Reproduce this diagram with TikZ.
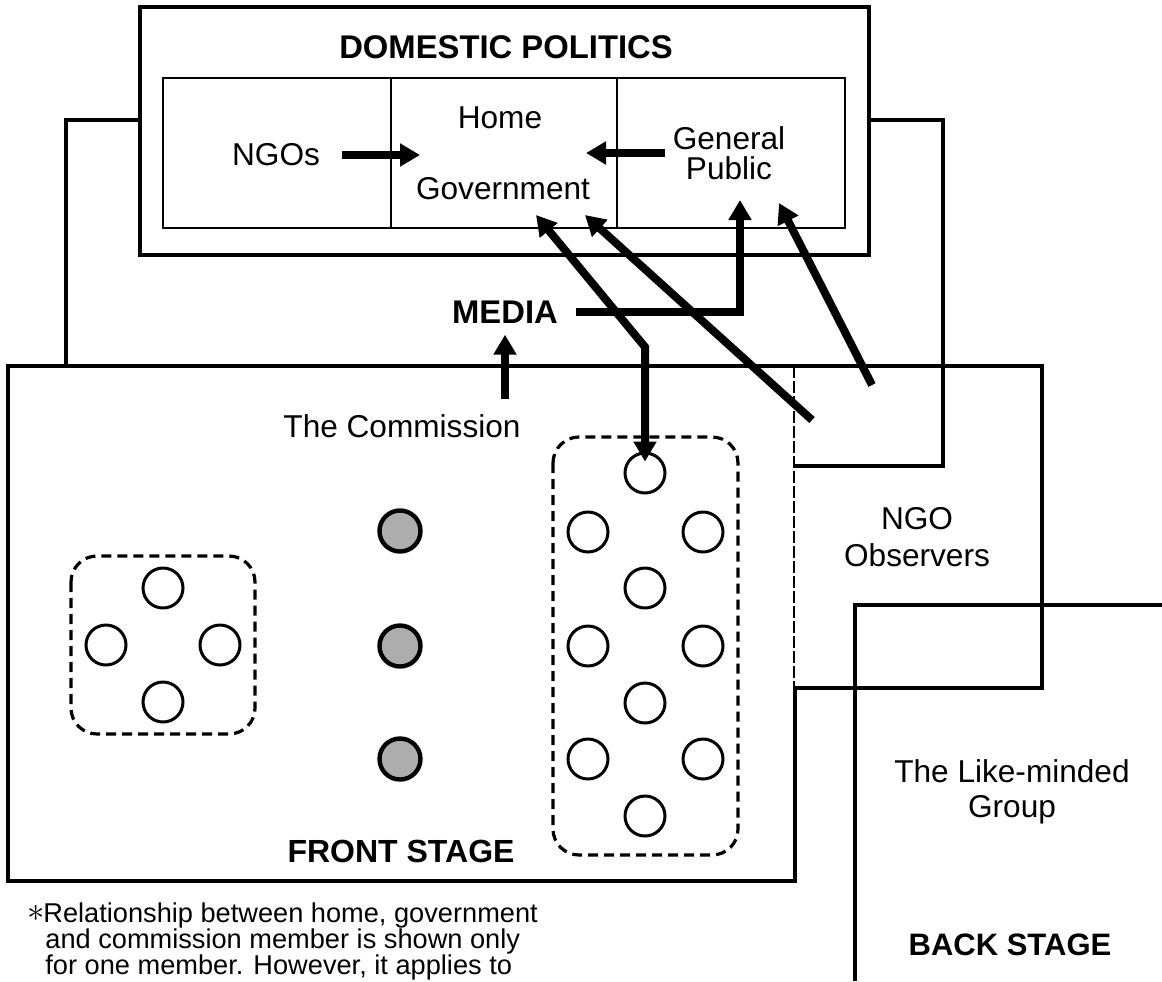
\documentclass[tikz,border=0pt]{standalone}
\usepackage{fontspec}
\setmainfont{Liberation Sans}
\usetikzlibrary{arrows.meta}

\begin{document}
\begin{tikzpicture}[x=0.5pt,y=-0.5pt,
  frame/.style={line width=2pt},
  bigarrow/.style={line width=4pt,-{Triangle[length=10pt,width=11pt]}},
  member/.style={circle,draw,line width=1.5pt,minimum size=20pt,inner sep=0pt},
  chair/.style={member,line width=2.2pt,minimum size=20.5pt,fill=black!32},
  group/.style={line width=1.6pt,dash pattern=on 5pt off 3pt,rounded corners=13pt},
  lbl/.style={inner sep=0pt,align=center,font=\fontsize{15.8}{17.5}\selectfont},
  head/.style={inner sep=0pt,font=\bfseries\fontsize{16.4}{18}\selectfont}]
\useasboundingbox (0,0) rectangle (1162,981);

% media field, partly hidden
\draw[frame] (66,366) -- (66,120) -- (943,120) -- (943,466) -- (795,466);

% domestic politics
\draw[frame,fill=white] (140,7) rectangle (869,255);
\draw[line width=0.8pt] (163,78) rectangle (845,228);
\draw[line width=0.8pt] (391,78) -- (391,228) (617,78) -- (617,228);
\node[head] (dom) at (506,47) {DOMESTIC POLITICS};
\node[lbl] (ngos) at (276,155) {NGOs};
\node[lbl] (home) at (500,118) {Home};
\node[lbl] (gov) at (503,189) {Government};
\node[lbl,font=\fontsize{15.8}{15}\selectfont] (pub) at (729,153) {General\\Public};

% front stage with the NGO observers
\draw[frame] (8,366) -- (1042,366) -- (1042,688) -- (795,688) -- (795,881) -- (8,881) -- cycle;
\draw[line width=0.6pt,dash pattern=on 6pt off 1.5pt] (794,366) -- (794,688);

% back stage
\draw[frame] (855,981) -- (855,605) -- (1162,605);

\node[head] (media) at (505,312) {MEDIA};
\node[lbl] (comm) at (402,426) {The Commission};
\node[lbl,font=\fontsize{15.8}{18.5}\selectfont] (obs) at (917,537) {NGO\\Observers};
\node[lbl] (like) at (1012,792) {The Like-minded\\Group};
\node[head,font=\bfseries\fontsize{16}{18}\selectfont] (front) at (401,851) {FRONT STAGE};
\node[head,font=\bfseries\fontsize{15.5}{16}\selectfont] (back) at (1010,945) {BACK STAGE};

% delegations
\draw[group] (71,556) rectangle (255,734);
\node[member] (l1) at (163,588) {};
\node[member] (l2) at (106,645) {};
\node[member] (l3) at (220,645) {};
\node[member] (l4) at (163,702) {};

\node[chair] (c1) at (400,531) {};
\node[chair] (c2) at (400,646) {};
\node[chair] (c3) at (400,759) {};

\draw[group] (553,437) rectangle (738,855);
\node[member] (m1) at (645,473) {};
\node[member] (m2) at (588,532) {};
\node[member] (m3) at (703,532) {};
\node[member] (m4) at (645,588) {};
\node[member] (m5) at (588,646) {};
\node[member] (m6) at (703,646) {};
\node[member] (m7) at (645,703) {};
\node[member] (m8) at (588,759) {};
\node[member] (m9) at (703,759) {};
\node[member] (m10) at (645,816) {};

% arrows
\coordinate (govL) at (420,155);
\coordinate (govR) at (586,155);
\coordinate (govA) at (536,215);
\coordinate (govB) at (585,215);
\coordinate (pubA) at (740,200);
\coordinate (pubB) at (779,203);
\coordinate (bend) at (645,347);
\coordinate (commA) at (505,399);
\coordinate (obsA) at (812,420);
\coordinate (obsB) at (872,385);

\draw[bigarrow] ([xshift=11pt]ngos.east) -- (govL |- ngos.east);
\draw[bigarrow] ([xshift=-3.5pt]pub.west) -- (govR |- pub.west);
\draw[bigarrow] ([xshift=9pt]media.east) -| (pubA);
\draw[bigarrow] (commA) -- ([yshift=-5.5pt]media.south);
\draw[bigarrow,{Triangle[length=10pt,width=11pt]}-{Triangle[length=10pt,width=11pt]}]
  (govA) -- (bend) -- ([yshift=-5pt]m1.north);
\draw[bigarrow] (obsA) -- (govB);
\draw[bigarrow] (obsB) -- (pubB);

\node[anchor=north west,align=left,inner sep=0pt,font=\fontsize{13.6}{13.2}\selectfont] (note) at (27,902)
  {\makebox[8pt][l]{\raisebox{0.5pt}{\fontsize{18}{18}\selectfont$\ast$}}Relationship between home, government\\
   \hspace*{9pt}and commission member is shown only\\
   \hspace*{9pt}for one member. However, it applies to};
\end{tikzpicture}
\end{document}
